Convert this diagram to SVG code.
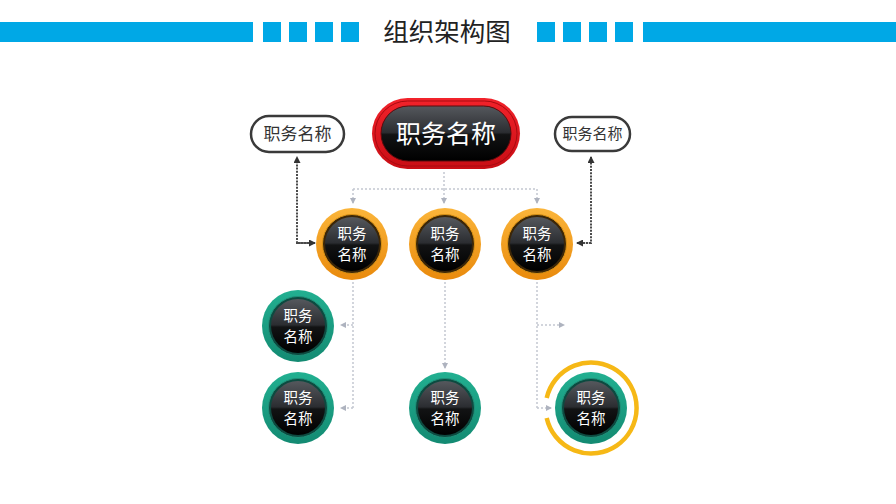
<svg xmlns="http://www.w3.org/2000/svg" width="896" height="504" viewBox="0 0 896 504">
<style>
.cjk{font-family:"Noto Sans CJK SC","Noto Sans",sans-serif;text-anchor:middle}
.wt{fill:#ffffff}
.ct{font-size:14.5px}
.lt{fill:none;stroke:#c3c7d1;stroke-width:1.5;stroke-dasharray:2 2}
.dk{fill:none;stroke:#4a4a4a;stroke-width:2;stroke-dasharray:2 1.2}
.bar{fill:#00a8e6}
</style>
<defs>
<linearGradient id="blk" x1="0" y1="0" x2="0" y2="1">
<stop offset="0" stop-color="#55585d"/>
<stop offset="0.48" stop-color="#2b2d31"/>
<stop offset="0.52" stop-color="#121314"/>
<stop offset="1" stop-color="#000000"/>
</linearGradient>
<linearGradient id="org" x1="0" y1="0" x2="0" y2="1">
<stop offset="0" stop-color="#fbb53a"/>
<stop offset="1" stop-color="#e98a0c"/>
</linearGradient>
<linearGradient id="grn" x1="0" y1="0" x2="0" y2="1">
<stop offset="0" stop-color="#22b091"/>
<stop offset="1" stop-color="#138a72"/>
</linearGradient>
<linearGradient id="red" x1="0" y1="0" x2="0" y2="1">
<stop offset="0" stop-color="#f2232b"/>
<stop offset="1" stop-color="#c80d14"/>
</linearGradient>
<marker id="la" viewBox="0 0 6 6" refX="5" refY="3" markerWidth="6" markerHeight="6" markerUnits="userSpaceOnUse" orient="auto">
<path d="M0,0 L6,3 L0,6 Z" fill="#aeb3bf"/>
</marker>
<marker id="da" viewBox="0 0 7 7" refX="6" refY="3.5" markerWidth="7" markerHeight="7" markerUnits="userSpaceOnUse" orient="auto">
<path d="M0,0 L7,3.5 L0,7 Z" fill="#333"/>
</marker>
</defs>
<rect width="896" height="504" fill="#ffffff"/>
<g id="header">
<rect class="bar" x="0" y="22" width="253" height="20"/>
<rect class="bar" x="263" y="22" width="18" height="20"/>
<rect class="bar" x="289" y="22" width="18" height="20"/>
<rect class="bar" x="315" y="22" width="18" height="20"/>
<rect class="bar" x="341" y="22" width="18" height="20"/>
<rect class="bar" x="537" y="22" width="18" height="20"/>
<rect class="bar" x="563" y="22" width="18" height="20"/>
<rect class="bar" x="589" y="22" width="18" height="20"/>
<rect class="bar" x="615" y="22" width="18" height="20"/>
<rect class="bar" x="643" y="22" width="253" height="20"/>
<text class="cjk" x="447" y="41" font-size="25.5" fill="#222">组织架构图</text>
</g>
<g id="connectors">
<path class="lt" d="M444,172 V189 M353,189 H537"/>
<path class="lt" d="M353,189 V203" marker-end="url(#la)"/>
<path class="lt" d="M444,189 V203" marker-end="url(#la)"/>
<path class="lt" d="M537,189 V203" marker-end="url(#la)"/>
<path class="lt" d="M353,282 V408"/>
<path class="lt" d="M353,325 H341" marker-end="url(#la)"/>
<path class="lt" d="M353,408 H341" marker-end="url(#la)"/>
<path class="lt" d="M445,282 V368" marker-end="url(#la)"/>
<path class="lt" d="M537,282 V408"/>
<path class="lt" d="M537,325 H564" marker-end="url(#la)"/>
<path class="lt" d="M537,408 H551" marker-end="url(#la)"/>
<path class="dk" d="M310,243 H297 V157" marker-end="url(#da)"/>
<path class="dk" d="M297,243 H315" marker-end="url(#da)"/>
<path class="dk" d="M583,243 H591 V157" marker-end="url(#da)"/>
<path class="dk" d="M591,243 H577" marker-end="url(#da)"/>
</g>
<g id="top">
<rect x="372" y="98" width="148" height="71" rx="35.5" fill="url(#red)"/>
<rect x="375" y="101" width="142" height="65" rx="32.5" fill="none" stroke="#a80a10" stroke-width="1"/>
<rect x="381" y="106" width="130" height="55" rx="27.5" fill="url(#blk)" stroke="#5a0a0c" stroke-width="1"/>
<text class="cjk wt" x="446" y="143" font-size="25">职务名称</text>
</g>
<g id="left-pill">
<rect x="251" y="116" width="93" height="36" rx="18" fill="#fff" stroke="#3a3a3a" stroke-width="2.5"/>
<text class="cjk" x="297.5" y="140" font-size="17" fill="#333">职务名称</text>
</g>
<g id="right-pill">
<rect x="555" y="117" width="75" height="34" rx="17" fill="#fff" stroke="#3a3a3a" stroke-width="2.5"/>
<text class="cjk" x="592.5" y="139" font-size="15" fill="#333">职务名称</text>
</g>
<g id="o1">
<circle cx="352" cy="244" r="36" fill="url(#org)"/>
<circle cx="352" cy="244" r="29.5" fill="#3b2608" stroke="#d89114" stroke-width="1"/>
<circle cx="352" cy="244" r="27" fill="url(#blk)"/>
<text class="cjk wt ct" x="352" y="239">职务<tspan x="352" dy="21">名称</tspan></text>
</g>
<g id="o2">
<circle cx="445" cy="244" r="36" fill="url(#org)"/>
<circle cx="445" cy="244" r="29.5" fill="#3b2608" stroke="#d89114" stroke-width="1"/>
<circle cx="445" cy="244" r="27" fill="url(#blk)"/>
<text class="cjk wt ct" x="445" y="239">职务<tspan x="445" dy="21">名称</tspan></text>
</g>
<g id="o3">
<circle cx="537" cy="244" r="36" fill="url(#org)"/>
<circle cx="537" cy="244" r="29.5" fill="#3b2608" stroke="#d89114" stroke-width="1"/>
<circle cx="537" cy="244" r="27" fill="url(#blk)"/>
<text class="cjk wt ct" x="537" y="239">职务<tspan x="537" dy="21">名称</tspan></text>
</g>
<g id="g1">
<circle cx="298" cy="326" r="36" fill="url(#grn)"/>
<circle cx="298" cy="326" r="29.5" fill="#0d4a40" stroke="#1f8f78" stroke-width="1"/>
<circle cx="298" cy="326" r="27" fill="url(#blk)"/>
<text class="cjk wt ct" x="298" y="321">职务<tspan x="298" dy="21">名称</tspan></text>
</g>
<g id="g2">
<circle cx="298" cy="408" r="36" fill="url(#grn)"/>
<circle cx="298" cy="408" r="29.5" fill="#0d4a40" stroke="#1f8f78" stroke-width="1"/>
<circle cx="298" cy="408" r="27" fill="url(#blk)"/>
<text class="cjk wt ct" x="298" y="403">职务<tspan x="298" dy="21">名称</tspan></text>
</g>
<g id="g3">
<circle cx="445" cy="408" r="36" fill="url(#grn)"/>
<circle cx="445" cy="408" r="29.5" fill="#0d4a40" stroke="#1f8f78" stroke-width="1"/>
<circle cx="445" cy="408" r="27" fill="url(#blk)"/>
<text class="cjk wt ct" x="445" y="403">职务<tspan x="445" dy="21">名称</tspan></text>
</g>
<g id="g4">
<path d="M546.7,398 A45.5,45.5 0 1 1 546.7,418" fill="none" stroke="#f6b816" stroke-width="4.5"/>
<circle cx="591" cy="408" r="36" fill="url(#grn)"/>
<circle cx="591" cy="408" r="29.5" fill="#0d4a40" stroke="#1f8f78" stroke-width="1"/>
<circle cx="591" cy="408" r="27" fill="url(#blk)"/>
<text class="cjk wt ct" x="591" y="403">职务<tspan x="591" dy="21">名称</tspan></text>
</g>
</svg>
